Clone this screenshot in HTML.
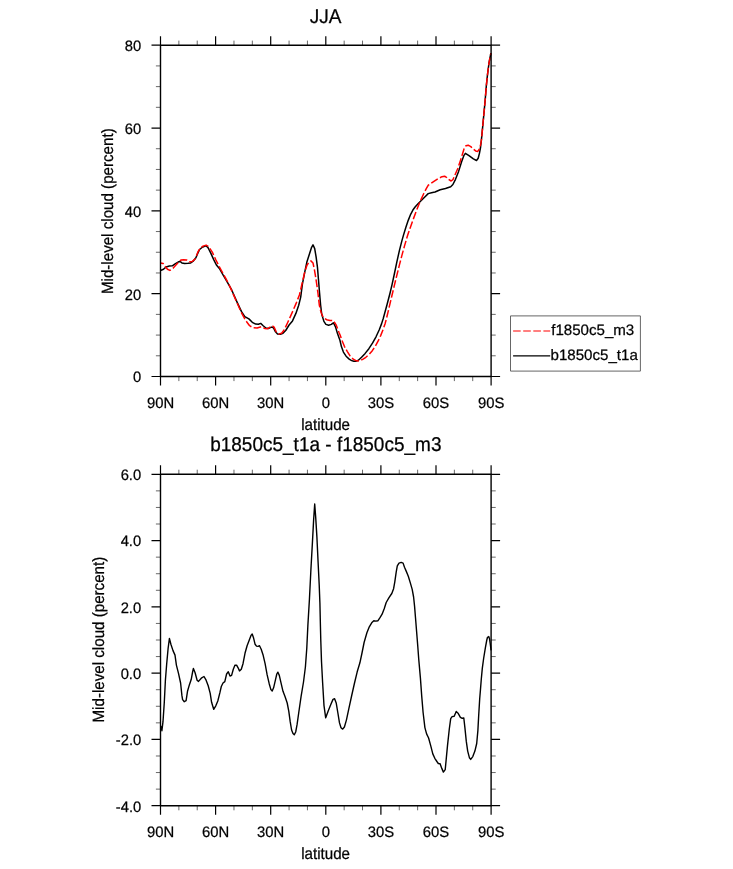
<!DOCTYPE html>
<html><head><meta charset="utf-8"><title>JJA</title>
<style>
html,body{margin:0;padding:0;background:#fff;}
body{width:733px;height:869px;overflow:hidden;}
svg{display:block;}
text{font-family:"Liberation Sans",sans-serif;fill:#000;text-rendering:geometricPrecision;stroke:#000;stroke-width:0.25px;stroke-linejoin:round;}
.t{font-size:15.15px;}
.h{font-size:19px;}
</style></head><body>
<svg width="733" height="869" viewBox="0 0 733 869">
<rect width="733" height="869" fill="#fff"/>
<g class="h" style="will-change:transform;opacity:.999">
<text transform="translate(325.6,22.7) scale(1,1.05)" text-anchor="middle">JJA</text>
<rect x="312.2" y="8" width="3.75" height="2.95" fill="#fff"/><rect x="321.7" y="8" width="3.75" height="2.95" fill="#fff"/>
<text transform="translate(325.8,451.2) scale(1,1.05)" text-anchor="middle">b1850c5_t1a - f1850c5_m3</text>
</g>
<g class="t" style="will-change:transform;opacity:.999">
<text transform="translate(160.5,407.6) scale(.98,1)" text-anchor="middle">90N</text><text transform="translate(215.6,407.6) scale(.98,1)" text-anchor="middle">60N</text><text transform="translate(270.7,407.6) scale(.98,1)" text-anchor="middle">30N</text><text transform="translate(325.8,407.6) scale(.98,1)" text-anchor="middle">0</text><text transform="translate(380.9,407.6) scale(.98,1)" text-anchor="middle">30S</text><text transform="translate(436.0,407.6) scale(.98,1)" text-anchor="middle">60S</text><text transform="translate(491.1,407.6) scale(.98,1)" text-anchor="middle">90S</text>
<text transform="translate(160.5,836.8) scale(.98,1)" text-anchor="middle">90N</text><text transform="translate(215.6,836.8) scale(.98,1)" text-anchor="middle">60N</text><text transform="translate(270.7,836.8) scale(.98,1)" text-anchor="middle">30N</text><text transform="translate(325.8,836.8) scale(.98,1)" text-anchor="middle">0</text><text transform="translate(380.9,836.8) scale(.98,1)" text-anchor="middle">30S</text><text transform="translate(436.0,836.8) scale(.98,1)" text-anchor="middle">60S</text><text transform="translate(491.1,836.8) scale(.98,1)" text-anchor="middle">90S</text>
<text transform="translate(141.2,51.0) scale(.975,1)" text-anchor="end">80</text><text transform="translate(141.2,133.8) scale(.975,1)" text-anchor="end">60</text><text transform="translate(141.2,216.7) scale(.975,1)" text-anchor="end">40</text><text transform="translate(141.2,299.5) scale(.975,1)" text-anchor="end">20</text><text transform="translate(141.2,382.3) scale(.975,1)" text-anchor="end">0</text>
<text transform="translate(141.2,480.1) scale(.975,1)" text-anchor="end">6.0</text><text transform="translate(141.2,546.4) scale(.975,1)" text-anchor="end">4.0</text><text transform="translate(141.2,612.7) scale(.975,1)" text-anchor="end">2.0</text><text transform="translate(141.2,678.9) scale(.975,1)" text-anchor="end">0.0</text><text transform="translate(141.2,745.2) scale(.975,1)" text-anchor="end">-2.0</text><text transform="translate(141.2,811.5) scale(.975,1)" text-anchor="end">-4.0</text>
<text transform="translate(325.6,429.6) scale(1,1.075)" text-anchor="middle">latitude</text>
<text transform="translate(325.6,858.6) scale(1,1.075)" text-anchor="middle">latitude</text>
<text transform="translate(113,211.2) rotate(-90) scale(1,1.075)" text-anchor="middle">Mid-level cloud (percent)</text>
<text transform="translate(104,639.6) rotate(-90) scale(1,1.075)" text-anchor="middle">Mid-level cloud (percent)</text>
<text x="551.2" y="334.8" style="font-size:15.1px">f1850c5_m3</text>
<text x="550.5" y="360.1" style="font-size:15.1px">b1850c5_t1a</text>
</g>
<g fill="none" stroke="#000" stroke-linejoin="round" stroke-linecap="butt">
<polyline points="160.50,270.50 163.50,269.30 166.20,266.90 169.30,266.10 172.30,265.80 175.10,263.90 178.50,261.80 180.20,261.50 181.90,262.90 184.60,263.50 188.00,263.30 190.70,262.90 193.50,260.80 195.90,257.70 197.60,253.60 199.60,249.50 202.30,247.20 205.70,245.90 207.60,247.00 208.20,248.00 210.90,253.40 213.70,259.60 216.40,265.00 219.80,269.10 223.20,275.20 227.30,282.10 231.80,290.20 236.60,301.10 241.40,311.40 244.80,316.60 248.90,318.90 252.30,322.30 255.70,324.10 258.40,324.30 260.70,323.40 263.20,325.70 265.90,328.00 268.70,328.40 271.40,327.10 273.40,327.70 275.50,331.80 277.50,333.90 280.30,334.30 283.00,333.20 285.70,330.50 289.10,325.00 292.50,320.90 295.90,313.40 298.70,305.20 300.70,297.10 302.40,284.10 304.80,271.80 306.80,262.30 309.60,253.40 311.60,247.30 313.00,244.80 314.70,248.60 316.10,256.80 317.50,267.70 318.40,278.70 319.50,292.30 320.60,305.00 321.80,314.50 323.90,321.40 325.90,324.40 328.60,325.20 331.40,324.40 333.40,322.70 335.50,326.80 337.50,333.60 340.00,340.50 341.40,346.60 343.40,352.10 346.10,356.20 349.20,359.10 350.80,360.10 352.30,360.80 353.80,361.15 355.30,361.20 356.90,360.90 358.40,360.20 361.55,357.23 365.16,353.41 368.87,348.70 372.64,342.93 376.14,336.52 379.27,329.72 381.62,323.62 383.24,318.46 386.93,304.98 390.12,292.71 391.98,284.90 394.28,274.26 396.92,261.64 399.44,250.43 401.86,240.91 403.56,234.92 405.82,227.54 408.23,220.35 410.65,214.30 412.88,210.05 415.09,206.95 417.77,203.97 421.03,200.73 424.81,197.01 428.20,193.60 431.50,192.70 435.00,192.00 440.20,189.80 445.50,188.50 450.70,186.70 452.90,184.50 455.50,179.30 458.60,171.40 461.60,161.80 463.80,155.70 465.40,153.30 469.00,155.70 473.40,158.80 476.50,160.50 478.20,158.30 479.50,153.10 480.60,147.00 481.40,140.00 482.60,127.60 483.80,114.90 485.20,99.90 486.30,86.10 487.50,74.60 489.00,63.00 490.90,53.20" stroke-width="1.5"/>
<polyline points="160.50,262.90 163.10,263.50 165.50,266.90 167.50,269.30 169.90,270.40 173.00,268.30 175.70,265.20 178.50,262.20 180.90,260.10 183.60,259.80 186.60,259.90 189.40,261.80 192.10,261.50 194.80,259.40 196.50,255.70 198.20,251.30 200.30,248.20 203.00,246.10 206.10,245.10 208.20,246.30 208.90,247.00 212.30,252.10 215.70,259.60 219.10,266.40 222.50,272.50 225.90,278.70 229.40,285.50 231.80,290.90 236.60,301.80 241.40,312.70 245.50,320.20 249.60,325.70 253.00,327.70 257.10,328.00 261.20,326.70 264.60,328.40 267.30,328.80 270.00,327.10 272.10,325.70 274.10,327.10 276.20,331.80 278.90,333.90 281.60,333.20 284.30,329.80 287.80,322.30 291.80,313.40 295.90,303.90 299.40,295.00 302.10,283.50 304.80,271.80 306.80,265.70 308.90,262.00 310.90,260.90 313.00,263.00 314.30,269.10 315.70,277.30 317.10,286.80 318.00,293.50 319.30,305.00 321.10,312.50 323.20,317.30 326.60,319.70 330.00,320.40 333.40,320.70 336.10,324.80 338.90,332.30 340.00,334.70 342.00,340.50 344.40,346.30 347.20,351.40 350.20,356.20 353.30,359.20 356.40,360.80 359.40,360.90 362.64,359.33 365.86,357.30 369.22,354.35 372.31,350.71 375.39,346.06 378.19,340.95 380.66,335.60 383.11,329.43 385.09,323.65 386.24,319.52 389.06,307.68 391.64,296.71 394.30,285.68 396.76,275.61 399.30,265.42 401.91,255.33 404.52,245.86 406.95,237.55 407.89,234.60 410.24,227.72 413.10,219.64 415.86,212.16 418.56,205.27 420.85,199.82 423.81,193.45 426.28,188.72 428.30,185.20 433.20,181.90 438.50,178.40 442.00,176.70 444.60,176.20 446.80,177.60 449.00,179.70 451.10,181.00 452.90,179.70 454.60,175.80 457.70,168.80 460.30,161.00 462.50,154.00 464.20,148.30 466.00,145.70 468.20,145.20 470.80,146.60 473.40,149.20 475.60,150.90 477.80,151.40 479.50,148.70 480.80,143.90 481.40,140.00 482.60,127.60 483.80,114.90 485.20,99.90 486.30,86.10 487.50,74.60 489.00,63.00 490.90,53.20" stroke="#ff0000" stroke-width="1.5" stroke-dasharray="7.7 2.5" stroke-dashoffset="4.2"/>
<polyline points="160.80,725.80 161.90,730.70 163.00,721.70 164.30,702.30 165.40,680.20 166.70,663.70 168.10,648.50 169.40,638.50 170.90,644.30 173.00,650.60 175.00,655.10 176.40,665.10 178.50,673.30 180.60,683.00 181.90,695.40 182.60,699.60 184.30,701.70 186.10,700.70 187.50,691.30 189.50,684.40 191.20,679.60 192.60,672.00 193.40,668.50 195.10,672.70 197.10,680.20 198.50,681.40 201.30,678.20 204.00,676.50 206.10,680.20 208.20,685.80 210.20,693.40 211.60,702.30 213.70,709.30 215.80,705.80 217.80,701.00 219.90,692.70 221.30,686.50 223.00,683.00 224.80,681.60 226.60,674.00 228.30,671.70 230.00,676.10 231.60,675.40 233.30,669.20 234.90,665.30 236.60,665.10 238.10,667.80 239.50,670.90 241.30,669.20 243.00,663.70 245.00,653.30 247.10,645.70 249.20,640.20 251.00,635.40 252.20,634.00 253.60,638.10 255.10,644.30 256.50,646.10 258.10,646.40 259.50,645.70 261.20,649.20 263.00,654.70 265.10,663.70 267.10,674.70 269.20,683.70 270.90,689.60 272.20,691.00 273.60,687.80 275.40,680.20 276.80,674.00 277.90,672.20 279.30,675.40 280.90,682.30 283.00,691.30 285.10,696.80 287.20,703.00 288.80,711.30 290.20,721.70 291.60,730.00 293.00,733.40 294.30,734.80 295.70,732.00 297.10,724.40 298.70,713.00 301.10,696.40 303.50,682.00 305.40,667.00 306.80,648.00 307.90,624.90 309.40,599.70 310.90,569.80 312.40,542.90 313.60,520.40 314.70,504.00 315.70,517.40 316.90,536.90 318.10,562.30 319.20,584.70 319.90,602.70 320.40,624.90 320.80,640.70 321.50,661.40 322.60,682.20 324.00,705.60 325.70,717.80 328.10,711.20 330.90,704.30 333.00,699.40 334.60,698.70 336.20,702.90 337.80,712.50 339.50,722.90 341.00,727.70 342.70,729.10 344.40,727.00 346.40,720.10 348.90,708.40 351.60,696.00 354.40,683.50 357.20,671.80 359.90,662.80 362.00,653.00 364.10,642.50 366.90,632.80 369.30,626.80 371.70,622.80 373.80,620.70 375.90,621.10 378.00,620.70 380.00,617.70 382.10,614.20 384.20,608.70 386.20,602.50 389.00,597.70 391.80,593.50 393.60,588.70 394.80,581.80 396.20,572.10 397.30,565.90 399.00,563.10 401.20,562.40 403.10,563.10 404.50,567.30 406.30,571.40 408.30,576.20 410.40,583.10 412.20,589.40 413.60,597.00 414.60,606.60 415.50,617.70 416.60,631.50 417.70,645.30 418.70,658.70 420.40,677.90 421.70,695.90 423.10,712.50 424.90,727.60 426.60,733.90 428.60,738.00 430.70,745.60 432.80,753.90 434.80,758.30 436.90,761.50 438.30,763.50 440.10,763.80 441.80,768.40 443.40,772.10 445.20,769.70 446.20,759.40 447.50,745.60 449.30,729.00 450.70,718.70 452.10,716.60 454.20,716.30 456.20,711.50 458.30,713.60 460.40,717.30 462.20,718.30 463.80,718.00 464.90,727.60 466.30,741.40 467.70,751.10 469.40,757.70 470.70,759.40 472.80,756.60 474.90,751.10 476.70,743.50 477.90,730.40 478.70,715.20 479.70,698.70 480.40,690.40 481.30,679.00 482.30,668.40 483.70,658.00 485.40,647.60 486.80,640.00 487.50,637.30 488.80,636.60 489.50,638.70 490.20,643.50 491.10,650.40" stroke-width="1.4"/>
<path d="M160.50 45.20v-9.0M160.50 376.50v9.0M215.60 45.20v-9.0M215.60 376.50v9.0M270.70 45.20v-9.0M270.70 376.50v9.0M325.80 45.20v-9.0M325.80 376.50v9.0M380.90 45.20v-9.0M380.90 376.50v9.0M436.00 45.20v-9.0M436.00 376.50v9.0M491.10 45.20v-9.0M491.10 376.50v9.0M160.50 45.20h-9.0M491.10 45.20h9.0M160.50 128.03h-9.0M491.10 128.03h9.0M160.50 210.85h-9.0M491.10 210.85h9.0M160.50 293.68h-9.0M491.10 293.68h9.0M160.50 376.50h-9.0M491.10 376.50h9.0M160.50 474.30v-9.0M160.50 805.70v9.0M215.60 474.30v-9.0M215.60 805.70v9.0M270.70 474.30v-9.0M270.70 805.70v9.0M325.80 474.30v-9.0M325.80 805.70v9.0M380.90 474.30v-9.0M380.90 805.70v9.0M436.00 474.30v-9.0M436.00 805.70v9.0M491.10 474.30v-9.0M491.10 805.70v9.0M160.50 474.30h-9.0M491.10 474.30h9.0M160.50 540.58h-9.0M491.10 540.58h9.0M160.50 606.86h-9.0M491.10 606.86h9.0M160.50 673.14h-9.0M491.10 673.14h9.0M160.50 739.42h-9.0M491.10 739.42h9.0M160.50 805.70h-9.0M491.10 805.70h9.0" stroke-width="1.2"/>
<path d="M178.87 45.20v-4.6M178.87 376.50v4.6M197.23 45.20v-4.6M197.23 376.50v4.6M233.97 45.20v-4.6M233.97 376.50v4.6M252.33 45.20v-4.6M252.33 376.50v4.6M289.07 45.20v-4.6M289.07 376.50v4.6M307.43 45.20v-4.6M307.43 376.50v4.6M344.17 45.20v-4.6M344.17 376.50v4.6M362.53 45.20v-4.6M362.53 376.50v4.6M399.27 45.20v-4.6M399.27 376.50v4.6M417.63 45.20v-4.6M417.63 376.50v4.6M454.37 45.20v-4.6M454.37 376.50v4.6M472.73 45.20v-4.6M472.73 376.50v4.6M160.50 65.91h-4.6M491.10 65.91h4.6M160.50 86.61h-4.6M491.10 86.61h4.6M160.50 107.32h-4.6M491.10 107.32h4.6M160.50 148.73h-4.6M491.10 148.73h4.6M160.50 169.44h-4.6M491.10 169.44h4.6M160.50 190.14h-4.6M491.10 190.14h4.6M160.50 231.56h-4.6M491.10 231.56h4.6M160.50 252.26h-4.6M491.10 252.26h4.6M160.50 272.97h-4.6M491.10 272.97h4.6M160.50 314.38h-4.6M491.10 314.38h4.6M160.50 335.09h-4.6M491.10 335.09h4.6M160.50 355.79h-4.6M491.10 355.79h4.6M178.87 474.30v-4.6M178.87 805.70v4.6M197.23 474.30v-4.6M197.23 805.70v4.6M233.97 474.30v-4.6M233.97 805.70v4.6M252.33 474.30v-4.6M252.33 805.70v4.6M289.07 474.30v-4.6M289.07 805.70v4.6M307.43 474.30v-4.6M307.43 805.70v4.6M344.17 474.30v-4.6M344.17 805.70v4.6M362.53 474.30v-4.6M362.53 805.70v4.6M399.27 474.30v-4.6M399.27 805.70v4.6M417.63 474.30v-4.6M417.63 805.70v4.6M454.37 474.30v-4.6M454.37 805.70v4.6M472.73 474.30v-4.6M472.73 805.70v4.6M160.50 490.87h-4.6M491.10 490.87h4.6M160.50 507.44h-4.6M491.10 507.44h4.6M160.50 524.01h-4.6M491.10 524.01h4.6M160.50 557.15h-4.6M491.10 557.15h4.6M160.50 573.72h-4.6M491.10 573.72h4.6M160.50 590.29h-4.6M491.10 590.29h4.6M160.50 623.43h-4.6M491.10 623.43h4.6M160.50 640.00h-4.6M491.10 640.00h4.6M160.50 656.57h-4.6M491.10 656.57h4.6M160.50 689.71h-4.6M491.10 689.71h4.6M160.50 706.28h-4.6M491.10 706.28h4.6M160.50 722.85h-4.6M491.10 722.85h4.6M160.50 755.99h-4.6M491.10 755.99h4.6M160.50 772.56h-4.6M491.10 772.56h4.6M160.50 789.13h-4.6M491.10 789.13h4.6" stroke-width="0.6"/>
<rect x="160.5" y="45.2" width="330.6" height="331.3" stroke-width="1.4"/>
<rect x="160.5" y="474.3" width="330.6" height="331.4" stroke-width="1.4"/>
<rect x="510.5" y="315.9" width="129.9" height="55.2" stroke="#555" stroke-width="0.9"/>
<path d="M513.1 331H550.2" stroke="#ff0000" stroke-width="1.15" stroke-dasharray="7.6 2.5"/>
<path d="M513.1 355.8H550.2" stroke-width="1.15"/>
</g>
</svg>
</body></html>
